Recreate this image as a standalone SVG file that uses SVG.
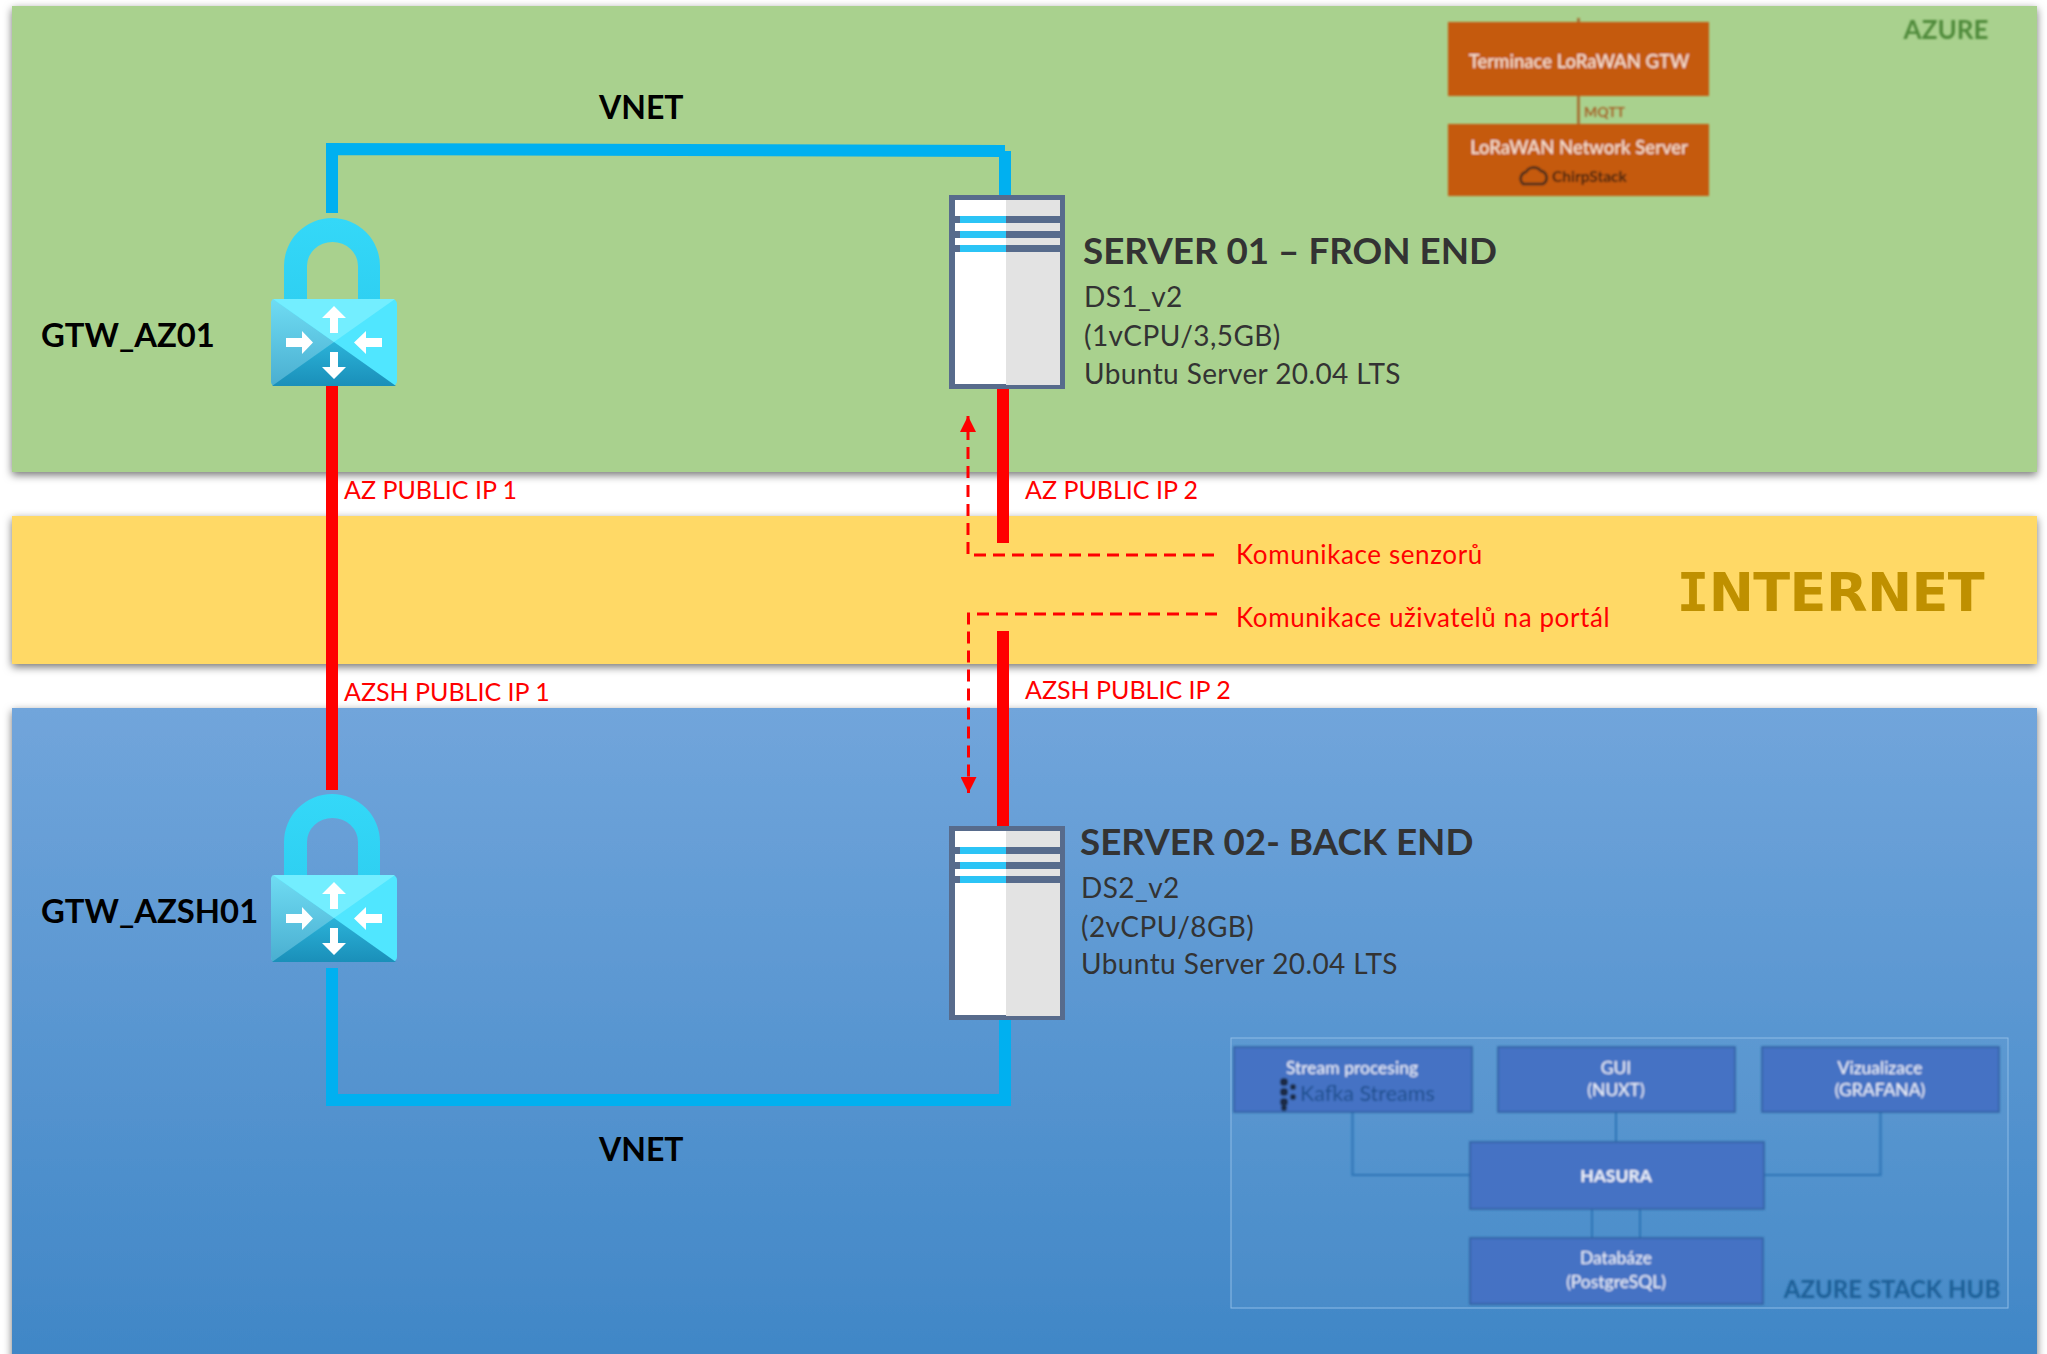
<svg xmlns="http://www.w3.org/2000/svg" xmlns:xlink="http://www.w3.org/1999/xlink" width="2047" height="1354" viewBox="0 0 2047 1354">
<style>
text{font-family:Lato,"Liberation Sans",sans-serif}
.lbl{font-weight:700;font-size:32.800px;fill:#000}
.title{font-weight:700;font-size:36.800px;fill:#333}
.spec{font-size:28px;letter-spacing:.4px;fill:#333}
.red{font-size:25px;fill:#f00}
.kom{font-size:26px;letter-spacing:.6px;fill:#f00}
.blue{fill:none;stroke:#00b0f0;stroke-width:12}
.redl{fill:none;stroke:#f00;stroke-width:12}
.dash{fill:none;stroke:#f00;stroke-width:3;stroke-dasharray:12 7}
.ob{fill:#c55a11}
.bb{fill:#4472c4;stroke:#2f5f9f;stroke-width:1.500}
.wt{font-size:17.500px;fill:#f2f5fb;text-anchor:middle}
.wo{font-size:18.500px;font-weight:500;fill:#f6e3d5;text-anchor:middle}
.thin{fill:none;stroke:#2e75b6;stroke-width:2}
</style>
<defs>
<linearGradient id="gb" x1="0" y1="0" x2="0" y2="1"><stop offset="0" stop-color="#71a5db"/><stop offset="1" stop-color="#3f86c6"/></linearGradient>
<linearGradient id="sh" x1="0" y1="0" x2="0" y2="1"><stop offset="0" stop-color="#34d8f8"/><stop offset="1" stop-color="#2fd0f2"/></linearGradient>
<linearGradient id="fl" x1="0" y1="0" x2="0" y2="1"><stop offset="0" stop-color="#6fdcf3"/><stop offset="1" stop-color="#4aaed0"/></linearGradient>
<linearGradient id="fb" x1="0" y1="0" x2="0" y2="1"><stop offset="0" stop-color="#2bb2d8"/><stop offset="1" stop-color="#1a8fb9"/></linearGradient>
<filter id="soft" x="-2%" y="-2%" width="104%" height="104%"><feGaussianBlur stdDeviation="1"/></filter>
<filter id="shadow" x="-2%" y="-5%" width="104%" height="115%"><feDropShadow dx="0" dy="3" stdDeviation="4" flood-color="#000" flood-opacity=".55"/></filter>
<marker id="arr" markerUnits="userSpaceOnUse" markerWidth="16" markerHeight="16" refX="16" refY="8" orient="auto"><path d="M0 0L16 8L0 16Z" fill="#f00"/></marker>
<g id="gw">
<path d="M284 299V266A48 48 0 0 1 380 266V299H358V266A25.500 24 0 0 0 307 266V299Z" fill="url(#sh)"/>
<rect x="271" y="299" width="126" height="87" rx="5" fill="#50e6ff"/>
<path d="M334 342L273 299Q271 300 271 304V381Q271 385 274 386Z" fill="url(#fl)"/>
<path d="M334 342L273 299H395Z" fill="#73eeff"/>
<path d="M334 342L272 386H396Z" fill="url(#fb)"/>
<g fill="#fff">
<path d="M334 306L346 318H338V333H330V318H322Z"/>
<path d="M334 379L322 367H330V352H338V367H346Z"/>
<path d="M313 342.500L302 331V338H286V347H302V354Z"/>
<path d="M354 342.500L366 331V338H382V347H366V354Z"/>
</g>
</g>
<g id="srv">
<rect x="949" y="195" width="116" height="194" fill="#576b8c"/>
<rect x="955" y="200" width="51" height="184" fill="#fff"/>
<rect x="1006" y="200" width="54" height="185" fill="#e3e3e3"/>
<rect x="955" y="216" width="105" height="7" fill="#576b8c"/>
<rect x="955" y="231" width="105" height="7" fill="#576b8c"/>
<rect x="955" y="245" width="105" height="7" fill="#576b8c"/>
<rect x="960" y="216" width="46" height="7" fill="#2bc4f6"/>
<rect x="960" y="231" width="46" height="7" fill="#2bc4f6"/>
<rect x="960" y="245" width="46" height="7" fill="#2bc4f6"/>
</g>
</defs>
<rect width="2047" height="1354" fill="#fff"/>
<g id="panels">
<rect id="azure" x="12" y="6" width="2025" height="466" fill="#a9d18e" filter="url(#shadow)"/>
<rect id="internet" x="12" y="516" width="2025" height="148" fill="#ffd966" filter="url(#shadow)"/>
<rect id="stack" x="12" y="708" width="2025" height="660" fill="url(#gb)" filter="url(#shadow)"/>
</g>
<g id="azure-inset" filter="url(#soft)">
<path d="M1578.500 18V124" stroke="#a5642a" stroke-width="2.500" fill="none"/>
<rect class="ob" x="1448" y="22" width="261" height="74"/>
<rect class="ob" x="1448" y="124" width="261" height="72"/>
<text class="wo" x="1579" y="68">Terminace LoRaWAN GTW</text>
<text x="1584" y="117" font-size="14" font-weight="700" fill="#a5642a">MQTT</text>
<text class="wo" x="1579" y="154">LoRaWAN Network Server</text>
<path d="M1523 184a7 7 0 0 1 3-12a9 9 0 0 1 15-1a7 7 0 0 1 2 13Z" fill="none" stroke="#3a2a1a" stroke-width="2.500"/>
<text x="1552" y="182" font-size="15.500" font-weight="700" fill="#3f2410">ChirpStack</text>
<text x="1946" y="39" font-size="26" font-weight="700" fill="#4f8a3a" text-anchor="middle">AZURE</text>
</g>
<g id="stack-inset">
<rect x="1231" y="1038" width="777" height="270" fill="#fff" fill-opacity=".03" stroke="#8dbbe6" stroke-width="1"/>
<g filter="url(#soft)">
<path class="thin" d="M1352.500 1112V1175H1470M1616 1112V1142M1880.500 1112V1175H1764M1592 1209V1238M1640 1209V1238"/>
<rect class="bb" x="1234" y="1047" width="238" height="65"/>
<rect class="bb" x="1498" y="1047" width="237" height="65"/>
<rect class="bb" x="1762" y="1047" width="237" height="65"/>
<rect class="bb" x="1470" y="1142" width="294" height="67"/>
<rect class="bb" x="1470" y="1238" width="293" height="66"/>
<text class="wt" x="1352" y="1074">Stream procesing</text>
<text x="1300" y="1101" font-size="21.500" fill="#1f4e8c">Kafka Streams</text>
<g fill="#1c2a44"><circle cx="1284" cy="1082" r="4"/><circle cx="1284" cy="1092" r="4"/><circle cx="1284" cy="1102" r="4"/><circle cx="1293" cy="1087" r="3"/><circle cx="1293" cy="1097" r="3"/><circle cx="1284" cy="1108" r="3"/></g>
<text class="wt" x="1616" y="1074">GUI</text>
<text class="wt" x="1616" y="1096">(NUXT)</text>
<text class="wt" x="1880" y="1074">Vizualizace</text>
<text class="wt" x="1880" y="1096">(GRAFANA)</text>
<text class="wt" x="1616" y="1182" font-weight="700">HASURA</text>
<text class="wt" x="1616" y="1264">Databáze</text>
<text class="wt" x="1616" y="1288">(PostgreSQL)</text>
<text x="1892" y="1298" font-size="24" font-weight="700" fill="#1f5f96" text-anchor="middle">AZURE STACK HUB</text>
</g>
</g>
<g id="connectors">
<path class="blue" d="M332 213V149L1005 151M1005 151V195"/>
<path class="blue" d="M332 968V1100H1005V1020"/>
<path class="redl" d="M332 386V790"/>
<path class="redl" d="M1003 389V543"/>
<path class="redl" d="M1003 631V826"/>
<path class="dash" d="M1214 555H968V416" marker-end="url(#arr)"/>
<path class="dash" d="M1217 614H968.500V793" marker-end="url(#arr)"/>
</g>
<g id="gtw-az01"><use href="#gw"/><text class="lbl" x="41" y="347">GTW_AZ01</text></g>
<g id="gtw-azsh01"><use href="#gw" y="576"/><text class="lbl" x="41" y="923">GTW_AZSH01</text></g>
<g id="server-01"><use href="#srv"/>
<text class="title" x="1083" y="264">SERVER 01 – FRON END</text>
<text class="spec" x="1084" y="307">DS1_v2</text>
<text class="spec" x="1084" y="346">(1vCPU/3,5GB)</text>
<text class="spec" x="1084" y="384">Ubuntu Server 20.04 LTS</text>
</g>
<g id="server-02"><use href="#srv" y="631"/>
<text class="title" x="1080" y="855">SERVER 02- BACK END</text>
<text class="spec" x="1081" y="898">DS2_v2</text>
<text class="spec" x="1081" y="937">(2vCPU/8GB)</text>
<text class="spec" x="1081" y="974">Ubuntu Server 20.04 LTS</text>
</g>
<g id="labels">
<text class="lbl" x="599" y="119" style="font-size:32px">VNET</text>
<text class="lbl" x="599" y="1161" style="font-size:32px">VNET</text>
<text class="red" x="344" y="499">AZ PUBLIC IP 1</text>
<text class="red" x="1025" y="499">AZ PUBLIC IP 2</text>
<text class="red" x="344" y="701">AZSH PUBLIC IP 1</text>
<text class="red" x="1025" y="699">AZSH PUBLIC IP 2</text>
<text class="kom" x="1236" y="564">Komunikace senzorů</text>
<text class="kom" x="1236" y="627">Komunikace uživatelů na portál</text>
<text x="1984" y="611" font-size="54" font-weight="700" fill="#bf9000" text-anchor="end" letter-spacing="-.6" style="font-family:'DejaVu Sans',sans-serif"><tspan style="font-family:'DejaVu Sans Mono',monospace">I</tspan>NTERNET</text>
</g>
</svg>
